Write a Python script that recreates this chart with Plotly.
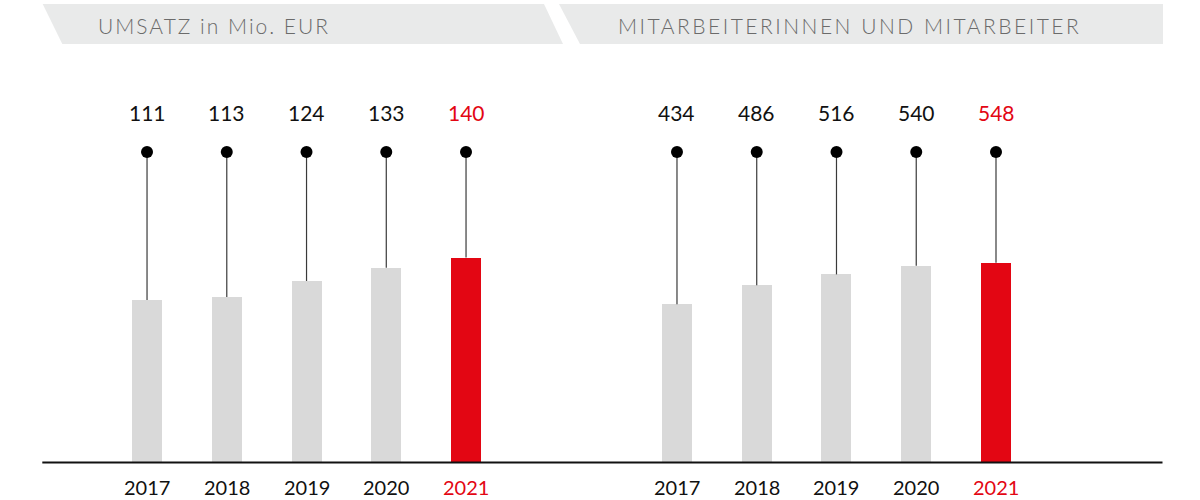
import json
import plotly.graph_objects as go

# ---- data ----
years = ["2017", "2018", "2019", "2020", "2021"]
umsatz = [111, 113, 124, 133, 140]
mitarbeiter = [434, 486, 516, 540, 548]
titles = ["UMSATZ in Mio. EUR", "MITARBEITERINNEN UND MITARBEITER"]

GREY = "#d9d9d9"
RED = "#e30613"
W, H = 1200, 500
FONT = "Lato"

def px(x):
    return x / W

def py(y):
    return 1 - y / H

bar_colors = [GREY] * (len(years) - 1) + [RED]
text_colors = ["#111111"] * (len(years) - 1) + [RED]

# axis ranges (layout calibration)
x1_range = [-1.317, 5.216]
x2_range = [-1.216, 6.094]
y1_range = [-25.6, 315.9]
y2_range = [-102.9, 1268.8]
DOT_FRAC = py(152)

fig = go.Figure()

panels = [
    (umsatz, "x", "y", y1_range),
    (mitarbeiter, "x2", "y2", y2_range),
]
annotations = []
for vals, xa, ya, yr in panels:
    dot_level = yr[0] + DOT_FRAC * (yr[1] - yr[0])
    fig.add_trace(go.Bar(
        x=years, y=vals, width=0.376, marker=dict(color=bar_colors, line=dict(width=0)),
        xaxis=xa, yaxis=ya, hoverinfo="skip", showlegend=False,
    ))
    # stems from bar top to dot
    for yr_lbl, v in zip(years, vals):
        fig.add_trace(go.Scatter(
            x=[yr_lbl, yr_lbl], y=[v, dot_level], mode="lines",
            line=dict(color="#3a3a3a", width=1.2), xaxis=xa, yaxis=ya,
            hoverinfo="skip", showlegend=False,
        ))
    fig.add_trace(go.Scatter(
        x=years, y=[dot_level] * len(years), mode="markers",
        marker=dict(color="#000000", size=12), xaxis=xa, yaxis=ya,
        hoverinfo="skip", showlegend=False,
    ))
    for i, (yr_lbl, v) in enumerate(zip(years, vals)):
        annotations.append(dict(
            x=i, y=py(113), xref=xa, yref="paper", text=str(v),
            showarrow=False, font=dict(family=FONT, size=21, color=text_colors[i]),
            xanchor="center", yanchor="middle",
        ))
        annotations.append(dict(
            x=i, y=py(487), xref=xa, yref="paper", text=yr_lbl,
            showarrow=False, font=dict(family=FONT, size=20, color=text_colors[i]),
            xanchor="center", yanchor="middle",
        ))

# header banners
def path(pts):
    return "M " + " L ".join(f"{px(x):.5f},{py(y):.5f}" for x, y in pts) + " Z"

shapes = [
    dict(type="path", xref="paper", yref="paper",
         path=path([(42.7, 4), (544, 4), (563, 44), (62.3, 44)]),
         fillcolor="#e9eaea", line=dict(width=0), layer="below"),
    dict(type="path", xref="paper", yref="paper",
         path=path([(559, 4), (1163, 4), (1163, 44), (580, 44)]),
         fillcolor="#e9eaea", line=dict(width=0), layer="below"),
    dict(type="line", xref="paper", yref="y", x0=px(42.3), x1=px(1162.5), y0=0, y1=0,
         line=dict(color="#111111", width=2), layer="above"),
]

annotations.append(dict(x=px(214), y=py(25), xref="paper", yref="paper", text=titles[0],
                        showarrow=False, xanchor="center", yanchor="middle",
                        font=dict(family=FONT, size=21, color="#6b6b6b", weight=300)))
annotations.append(dict(x=px(849), y=py(25), xref="paper", yref="paper", text=titles[1],
                        showarrow=False, xanchor="center", yanchor="middle",
                        font=dict(family=FONT, size=21, color="#6b6b6b", weight=300)))

ax_common = dict(visible=False, showgrid=False, zeroline=False, fixedrange=True)
fig.update_layout(
    width=W, height=H, margin=dict(l=0, r=0, t=0, b=0),
    paper_bgcolor="white", plot_bgcolor="white",
    xaxis=dict(domain=[px(42), px(563)], range=x1_range, type="category", anchor="y", **ax_common),
    yaxis=dict(domain=[0, 1], range=y1_range, anchor="x", **ax_common),
    xaxis2=dict(domain=[px(580), px(1163)], range=x2_range, type="category", anchor="y2", **ax_common),
    yaxis2=dict(domain=[0, 1], range=y2_range, anchor="x2", **ax_common),
    shapes=shapes, annotations=annotations, bargap=0,
)

post = """
document.body.style.margin = '0';
var titles = %s;
document.querySelectorAll('text.annotation-text').forEach(function(t){
  if (titles.indexOf(t.textContent) >= 0) {
    t.style.letterSpacing = (t.textContent.length > 20 ? '2.5px' : '2.0px');
  }
});
""" % json.dumps(titles)

fig.write_html("out.html", post_script=post, config={"displayModeBar": False})
